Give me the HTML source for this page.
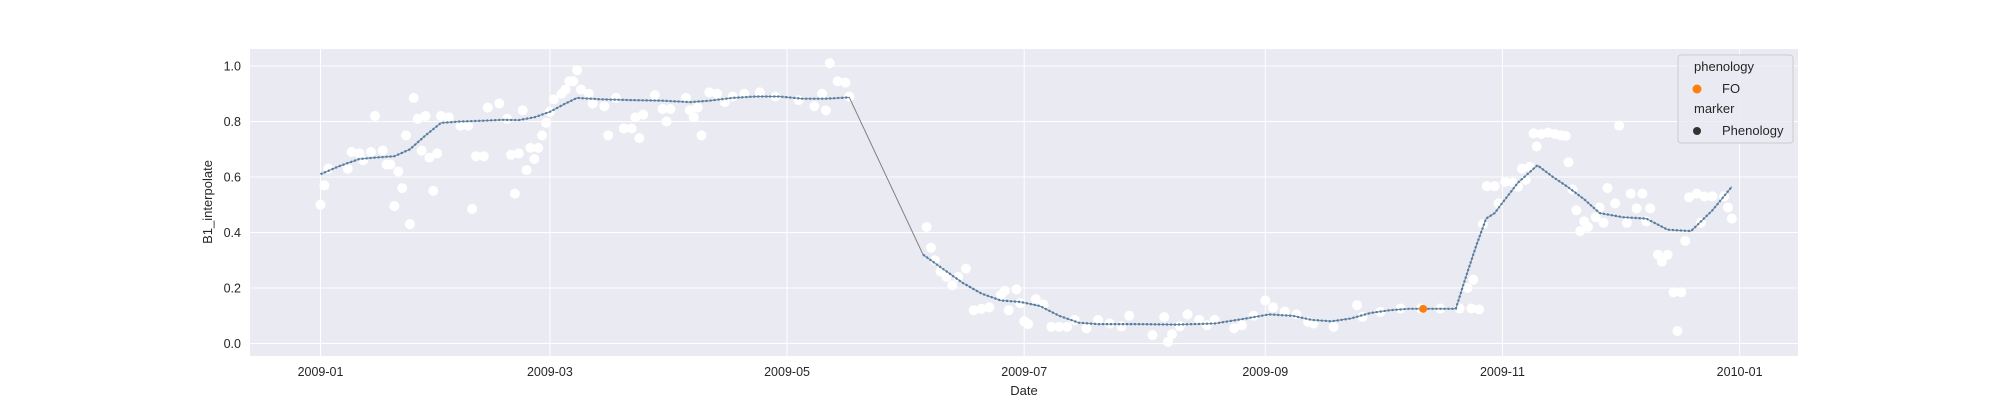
<!DOCTYPE html>
<html><head><meta charset="utf-8"><style>
html,body{margin:0;padding:0;background:#fff;}
svg{display:block;font-family:"Liberation Sans",Arial,sans-serif;}
</style></head><body>
<svg id="chart" width="2000" height="400" viewBox="0 0 2000 400">
<rect x="250" y="49" width="1548" height="307" fill="#eaeaf2"/>
<g id="grid"></g><g id="scatter"></g><g id="series"></g><g id="axes"></g>
<text x="1024" y="395" text-anchor="middle" font-size="13" fill="#262626">Date</text>
<text transform="translate(212,202) rotate(-90)" text-anchor="middle" font-size="13" fill="#262626">B1_interpolate</text>
<g>
<rect x="1678" y="55" width="115" height="88" rx="3" fill="#eaeaf2" fill-opacity="0.8" stroke="#cccccc"/>
<text x="1694" y="71" font-size="13" fill="#262626">phenology</text>
<circle cx="1697" cy="89" r="4.5" fill="#ff7f0e"/>
<text x="1722" y="93" font-size="13" fill="#262626">FO</text>
<text x="1694" y="113" font-size="13" fill="#262626">marker</text>
<circle cx="1697" cy="131" r="4" fill="#333333"/>
<text x="1722" y="135" font-size="13" fill="#262626">Phenology</text>
</g>
</svg>
<script>
const yTicks=[0.0,0.2,0.4,0.6,0.8,1.0];
const yTickLabels=["0.0","0.2","0.4","0.6","0.8","1.0"];
const xTickDays=[0,59,120,181,243,304,365];
const xTickLabels=["2009-01","2009-03","2009-05","2009-07","2009-09","2009-11","2010-01"];
const lineDays=[0,5,10,14,19,23,27,31,36,42,47,51,55,59,63,66,72,80,88,95,100,106,112,118,124,130,136,155,160,165,170,175,180,185,190,195,200,210,220,230,238,244,250,255,260,265,270,275,280,286,292,294.6,297.2,299.8,302,303.6,308,313,317,320.7,325,329,335,341,346.5,352.5,358,363];
const lineVals=[0.61,0.64,0.665,0.67,0.675,0.70,0.75,0.795,0.80,0.803,0.806,0.805,0.815,0.835,0.865,0.885,0.88,0.877,0.875,0.87,0.875,0.885,0.89,0.89,0.882,0.882,0.887,0.32,0.27,0.22,0.18,0.155,0.15,0.135,0.10,0.075,0.07,0.07,0.068,0.072,0.09,0.105,0.10,0.085,0.08,0.09,0.11,0.12,0.125,0.125,0.125,0.24,0.35,0.45,0.47,0.50,0.58,0.642,0.60,0.565,0.52,0.47,0.455,0.45,0.41,0.405,0.48,0.565];
const rawDays=[0,1,2,7,8,10,11,13,14,16,17,18,19,20,21,22,23,24,25,26,27,28,29,30,31,33,36,38,39,40,42,43,46,48,49,50,51,52,53,54,55,56,57,58,59,60,62,63,64,65,66,67,69,70,73,74,76,78,80,81,82,83,86,88,89,90,94,95,96,97,98,100,102,104,106,109,113,117,123,127,129,130,131,133,135,136,
155.9,157,158,159.5,161,162.5,164,166,168,170,172,175,176,177,179,180,181,182,184,186,188,190,192,194,197,200,203,206,208,214,217,218,219,221,223,226,228,230,235,237,240,243,245,248,251,254,
255.4,260.6,266.6,268,272.6,277.8,283,288,293,296,298,295,296.5,299,300,302,303,304.7,306.7,308,309,310,311,312,312.8,314,315.7,317.4,319,320.3,321,322,323,324,325,326,328,329,330,331,333,334,336,337,338.5,340,341,342,344,345,346.5,348,349,350,351,352,354,356,358,355,361,362,363];
const rawVals=[0.50,0.57,0.63,0.63,0.69,0.685,0.66,0.69,0.82,0.695,0.645,0.645,0.495,0.62,0.56,0.75,0.43,0.885,0.81,0.695,0.82,0.67,0.55,0.685,0.82,0.815,0.785,0.785,0.485,0.675,0.675,0.85,0.865,0.81,0.68,0.54,0.685,0.84,0.625,0.705,0.665,0.705,0.75,0.795,0.835,0.88,0.90,0.915,0.945,0.945,0.985,0.915,0.90,0.865,0.855,0.75,0.885,0.775,0.775,0.815,0.74,0.825,0.895,0.845,0.80,0.845,0.885,0.84,0.815,0.85,0.75,0.905,0.90,0.87,0.89,0.90,0.905,0.89,0.877,0.855,0.90,0.84,1.01,0.945,0.94,0.89,
0.42,0.345,0.30,0.26,0.24,0.21,0.24,0.27,0.12,0.125,0.13,0.175,0.19,0.12,0.195,0.145,0.08,0.07,0.16,0.14,0.06,0.06,0.06,0.085,0.055,0.085,0.072,0.062,0.10,0.03,0.095,0.006,0.034,0.062,0.105,0.085,0.066,0.085,0.055,0.066,0.10,0.155,0.13,0.115,0.105,0.078,
0.072,0.06,0.138,0.096,0.114,0.126,0.126,0.126,0.126,0.126,0.123,0.20,0.23,0.43,0.567,0.567,0.505,0.583,0.58,0.565,0.63,0.59,0.637,0.757,0.71,0.755,0.76,0.755,0.75,0.748,0.653,0.555,0.48,0.405,0.44,0.42,0.455,0.49,0.435,0.56,0.505,0.785,0.435,0.54,0.487,0.54,0.44,0.487,0.32,0.295,0.32,0.185,0.045,0.185,0.37,0.527,0.54,0.53,0.53,0.435,0.53,0.49,0.45];
const foDays=[283.6];
const foVals=[0.125];

const NS="http://www.w3.org/2000/svg";
function xs(d){return 320.5+d*3.888;}
function ys(v){return 343.5-v*277.5;}
function mk(tag,attrs,parent){const e=document.createElementNS(NS,tag);for(const k in attrs)e.setAttribute(k,attrs[k]);parent.appendChild(e);return e;}
const grid=document.getElementById('grid'),axes=document.getElementById('axes');
yTicks.forEach((t,i)=>{
  const l=mk('line',{x1:250,x2:1798,y1:ys(t),y2:ys(t),stroke:'#fff','stroke-width':1},grid);
  
  
  const tx=mk('text',{x:241,y:ys(t)+4.5,'text-anchor':'end','font-size':12.5,fill:'#262626'},axes);
  tx.textContent=yTickLabels[i];
  
  
});
xTickDays.forEach((d,i)=>{
  const l=mk('line',{x1:xs(d),x2:xs(d),y1:49,y2:356,stroke:'#fff','stroke-width':1},grid);
  
  
  const tx=mk('text',{x:xs(d),y:376,'text-anchor':'middle','font-size':12.5,fill:'#262626'},axes);
  tx.textContent=xTickLabels[i];
  
  
});
const sc=document.getElementById('scatter');
rawDays.forEach((d,i)=>{
  const c=mk('circle',{cx:xs(d),cy:ys(rawVals[i]),r:5,fill:'#ffffff'},sc);
  
  
});
const se=document.getElementById('series');
const pts=lineDays.map((d,i)=>xs(d).toFixed(1)+','+ys(lineVals[i]).toFixed(1)).join(' ');
const pl=mk('polyline',{points:pts,fill:'none',stroke:'#808080','stroke-width':1},se);


let dp='';
lineDays.forEach((d,i)=>{
  const cmd=(i===0||d-lineDays[i-1]>10)?'M':'L';
  dp+=cmd+xs(d).toFixed(1)+','+ys(lineVals[i]).toFixed(1)+' ';
});
const dl=mk('path',{d:dp,fill:'none',stroke:'#4a7fae','stroke-width':2.2,'stroke-dasharray':'2 2'},se);


foDays.forEach((d,i)=>{
  const c=mk('circle',{cx:xs(d),cy:ys(foVals[i]),r:4,fill:'#ff7f0e'},se);
  
  
});
</script>
</body></html>
